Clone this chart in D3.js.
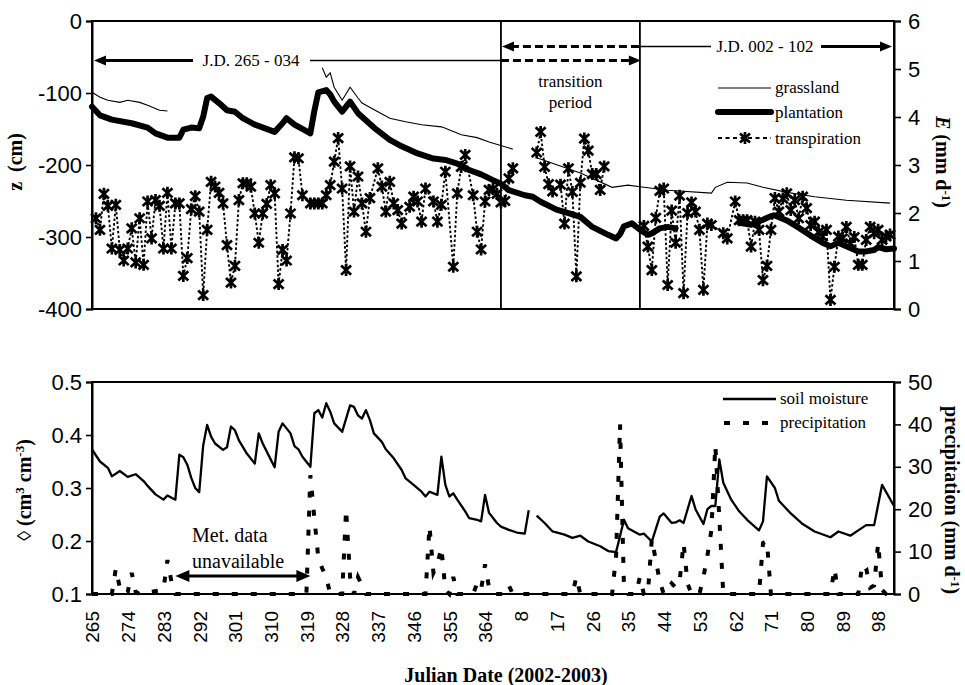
<!DOCTYPE html>
<html>
<head>
<meta charset="utf-8">
<title>Water table depth, evaporation and soil moisture, 2002-2003</title>
<script src="https://cdn.jsdelivr.net/npm/d3@7/dist/d3.min.js"></script>
<style>
  html, body { margin: 0; padding: 0; background: #fff; }
  svg { display: block; }
</style>
</head>
<body>
<svg id="chart" width="965" height="685"></svg>
<script>
// ---------------- data ----------------
// Julian days are counted continuously: 366 = J.D. 001 of 2003.
const xTickDays   = [265,274,283,292,301,310,319,328,337,346,355,364,373,382,391,400,409,418,427,436,445,454,463];
const xTickLabels = ["265","274","283","292","301","310","319","328","337","346","355","364","8","17","26","35","44","53","62","71","80","89","98"];
const zTicks      = [0,-100,-200,-300,-400];
const eTicks      = [0,1,2,3,4,5,6];
const thetaTicks  = [0.1,0.2,0.3,0.4,0.5];
const precipTicks = [0,10,20,30,40,50];

// water table depth under grassland (cm); null = no record
const grassDay = [265,267,269,272,274,277,279,282,284, 300,
                  323,324,325,326,328,330,332,333,337,340,344,348,353,354,358,362,365,371, 374,
                  377,388,396,400,404,410,421,422,425,430,434,440,447,455,466];
const grassZ   = [-99,-106,-110,-113,-110,-113,-117,-124,-125, null,
                  -65,-78,-72,-92,-110,-92,-107,-114,-126,-135,-140,-144,-147,-149,-158,-162,-168,-178, null,
                  -190,-211,-231,-228,-231,-235,-239,-231,-224,-225,-231,-238,-244,-249,-253];

// water table depth under the plantation (cm)
const plantDay = [265,267,270,275,279,281,284,287,288,290,292,293,294,295,297,299,301,303,306,311,313,314,316,319,320,
                  321,322,324,325,326,328,330,332,336,340,343,347,351,354,357,360,363,366,368,370,374,376,378,382,385,
                  388,391,395,397,398,399,401,403,405,406,408,410,412, 420,
                  428,431,434,436,437,440,443,446,449,451,453,455,458,460,462,463,465,467];
const plantZ   = [-119,-131,-137,-142,-148,-156,-162,-162,-151,-148,-149,-133,-107,-105,-114,-124,-126,-135,-144,-154,-142,-135,-144,-153,-156,
                  -125,-99,-96,-102,-112,-126,-112,-128,-148,-165,-174,-184,-191,-193,-198,-207,-213,-221,-226,-235,-242,-244,-251,-262,-267,
                  -272,-286,-297,-302,-296,-285,-281,-290,-297,-295,-288,-286,-288, null,
                  -280,-283,-276,-271,-270,-277,-287,-298,-308,-313,-308,-313,-320,-320,-318,-314,-317,-316];

// plantation transpiration (mm/d)
const transDay = [266,267,268,269,270,271,272,273,274,275,276,277,278,279,280,281,282,283,284,285,
                  286,287,288,289,290,291,292,293,294,295,296,297,298,299,300,301,302,303,304,305,
                  306,307,308,309,310,311,312,313,314,315,316,317,318,320,321,322,323,324,325,326,
                  327,328,329,330,331,332,333,334,335,337,338,339,340,341,342,343,345,346,347,348,
                  349,351,352,353,354,356,357,358,359,361,362,363,364,365,366,367,368,369,370,371,
                  374,
                  377,378,379,380,381,383,384,385,386,387,388,389,390,391,392,393,394,
                  399,
                  404,405,406,407,408,409,410,411,412,413,414,415,416,417,418,419,420,421,424,425,
                  427,428,429,430,431,432,433,434,435,436,437,438,439,440,441,442,443,444,445,446,
                  447,448,449,450,451,452,453,454,455,456,457,458,459,460,461,462,463,464,465,466];
const transE   = [1.89,1.65,2.40,2.15,1.26,2.17,1.23,1.01,1.26,1.68,0.97,1.89,0.92,2.24,1.47,2.27,2.15,1.26,2.42,1.26,
                  2.20,2.20,0.69,1.06,2.08,2.35,2.03,0.29,1.65,2.65,2.55,2.42,2.20,1.33,0.55,0.90,2.27,2.62,2.62,2.55,
                  1.99,1.38,1.99,2.19,2.58,2.41,0.52,1.23,1.01,1.99,3.16,3.14,2.37,2.20,2.20,2.20,2.20,2.37,2.58,3.07,
                  3.56,2.51,0.81,2.97,2.03,2.76,2.20,1.61,2.31,2.93,2.55,2.03,2.65,2.20,2.06,1.78,2.13,2.34,2.24,1.82,
                  2.51,2.24,1.82,2.17,2.86,0.88,2.41,2.96,3.21,2.37,1.61,1.24,2.24,2.48,2.50,2.40,2.22,2.25,2.72,2.93,
                  null,
                  3.26,3.69,2.96,2.60,2.45,2.59,1.78,2.93,2.44,0.68,2.63,3.55,3.30,2.81,2.81,2.48,2.97,
                  null,
                  1.73,1.30,0.81,1.90,2.46,2.51,0.50,2.05,1.38,2.36,0.33,2.00,2.22,2.03,1.65,0.40,1.78,1.75,1.58,1.47,
                  2.24,1.85,1.85,1.85,1.30,1.82,1.65,0.60,0.90,1.65,2.31,2.03,2.30,2.41,2.06,2.27,1.89,2.34,2.10,1.75,
                  1.82,1.60,1.51,1.65,0.19,0.88,1.51,1.47,1.71,1.37,1.50,0.92,0.92,1.44,1.71,1.58,1.65,1.44,1.51,1.55];

// volumetric soil moisture (cm3/cm3)
const soilDay   = [265,267,269,270,272,274,276,278,279,281,283,284,286,287,288,289,290,291,292,293,294,295,296,298,299,
                   300,301,302,304,306,307,308,310,311,312,313,315,316,317,318,320,321,322,323,324,325,326,328,330,331,
                   332,333,334,335,336,338,339,341,343,344,346,348,349,350,352,353,354,355,356,357,359,360,362,363,364,
                   365,367,368,370,372,374,375, 376,
                   377,379,381,384,386,388,390,393,395,397,399,400,403,404,406,408,409,411,412,413,414,416,417,419,420,
                   421,422,423,424,426,428,430,433,434,435,437,438,441,444,447,451,453,456,458,460,462,464,467];
const soilTheta = [.373,.350,.338,.322,.332,.321,.326,.313,.304,.288,.278,.286,.278,.363,.358,.344,.319,.300,.292,.380,.419,.397,.384,.372,.377,
                   .416,.409,.390,.365,.346,.403,.384,.354,.339,.406,.422,.403,.379,.373,.359,.340,.441,.447,.433,.460,.444,.422,.406,.456,.453,
                   .437,.431,.447,.428,.403,.387,.373,.356,.334,.318,.306,.293,.284,.293,.287,.359,.306,.284,.290,.278,.256,.243,.240,.237,.287,
                   .253,.234,.227,.221,.216,.214,.258, null,
                   .248,.234,.218,.212,.206,.210,.199,.190,.181,.179,.240,.224,.212,.214,.199,.246,.252,.234,.235,.239,.234,.285,.260,.232,.260,
                   .266,.266,.354,.310,.278,.256,.240,.220,.237,.322,.300,.276,.252,.232,.218,.207,.218,.210,.220,.230,.230,.306,.266];

// daily precipitation (mm/d)
const rainDay = [265,270,271,272,273,274,275,276,277,283,284,285,286,319,320,321,322,323,324,325,328,329,330,331,332,333,334,
                 349,350,351,352,353,354,355,356,357,361,362,363,364,365,366,369,370,371,386,387,388,396,397,398,399,400,
                 402,403,404,405,406,407,408,409,410,411,412,413,414,415,416,418,419,420,421,422,423,424,433,434,435,436,
                 451,452,453,458,459,460,461,462,463,464,465,467];
const rainMm  = [0,0,6,1.5,0,0.5,5,0.5,0,1,8,3,0,0,28,18,8.5,6,4,0,0,20,4,0,4,2,0,
                 0,16,5,7,11,1,0,4,0,0,2.5,1,7,1.5,0,0,2,0,0,4,0,0,9,40,1,0,
                 0,4,0,0,13,8,3,0,1,2.5,1.5,3,12,2.5,0,0,4,9,15,35,18,0,0,12,12.5,0,
                 0,6,0,0,7,6,1.5,2,12,1,0,0];

const periodBounds = [265, 368, 403, 467];   // J.D. 265-034 | transition | J.D. 002-102
const metGapDays   = [286, 320];             // met. station record missing

// ---------------- layout ----------------
const svg = d3.select("#chart");
const SANS  = '"Liberation Sans", Arial, Helvetica, sans-serif';
const SERIF = '"Liberation Serif", "Times New Roman", Times, serif';

const X0 = 92, X1 = 894;
const topY0 = 21,  topY1 = 309;
const botY0 = 382, botY1 = 594;

const x       = d3.scaleLinear().domain([265, 467]).range([X0, X1]);
const zScale  = d3.scaleLinear().domain([-400, 0]).range([topY1, topY0]);
const eScale  = d3.scaleLinear().domain([0, 6]).range([topY1, topY0]);
const thScale = d3.scaleLinear().domain([0.1, 0.5]).range([botY1, botY0]);
const pScale  = d3.scaleLinear().domain([0, 50]).range([botY1, botY0]);

function zip(days, vals) { return days.map((d, i) => ({ d, v: vals[i] })); }

function styleAxis(g, size) {
  g.select(".domain").attr("stroke", "#000").attr("stroke-width", 2);
  g.selectAll(".tick line").attr("stroke", "#000").attr("stroke-width", 1.6);
  g.selectAll(".tick text").attr("fill", "#000").style("font-family", SANS).style("font-size", size + "px");
}

// ---------------- upper panel: water table and transpiration ----------------
const upper = svg.append("g");

upper.append("g").attr("transform", `translate(${X0},0)`)
  .call(d3.axisLeft(zScale).tickValues(zTicks).tickSize(6).tickPadding(4).tickFormat(d => String(d)))
  .call(g => styleAxis(g, 22));
upper.append("g").attr("transform", `translate(${X1},0)`)
  .call(d3.axisRight(eScale).tickValues(eTicks).tickSize(7).tickPadding(7).tickFormat(d => String(d)))
  .call(g => styleAxis(g, 22));

upper.append("rect").attr("x", X0).attr("y", topY0).attr("width", X1 - X0).attr("height", topY1 - topY0)
  .attr("fill", "none").attr("stroke", "#000").attr("stroke-width", 2);

// period boundaries
upper.selectAll("line.bound").data(periodBounds.slice(1, 3)).join("line")
  .attr("class", "bound")
  .attr("x1", d => x(d)).attr("x2", d => x(d))
  .attr("y1", topY0).attr("y2", topY1)
  .attr("stroke", "#000").attr("stroke-width", 1.8);

const lineZ = d3.line().defined(p => p.v != null).x(p => x(p.d)).y(p => zScale(p.v));
const lineE = d3.line().defined(p => p.v != null).x(p => x(p.d)).y(p => eScale(p.v));

upper.append("path").datum(zip(grassDay, grassZ)).attr("d", lineZ)
  .attr("fill", "none").attr("stroke", "#000").attr("stroke-width", 1.1);

upper.append("path").datum(zip(plantDay, plantZ)).attr("d", lineZ)
  .attr("fill", "none").attr("stroke", "#000").attr("stroke-width", 6)
  .attr("stroke-linejoin", "round").attr("stroke-linecap", "round");

const transPts = zip(transDay, transE);
upper.append("path").datum(transPts).attr("d", lineE)
  .attr("fill", "none").attr("stroke", "#000").attr("stroke-width", 1.9)
  .attr("stroke-dasharray", "2.5,2.2");

const STAR = "M0,-6V6M-5,-4.6L5,4.6M-5,4.6L5,-4.6";
upper.selectAll("path.star").data(transPts.filter(p => p.v != null)).join("path")
  .attr("class", "star")
  .attr("transform", p => `translate(${x(p.d)},${eScale(p.v)})`)
  .attr("d", STAR).attr("fill", "none").attr("stroke", "#000").attr("stroke-width", 2.7);

// period arrows
function head(g, tipX, y, dir, len = 12, w = 5) {
  g.append("path")
    .attr("d", `M${tipX},${y}L${tipX - dir * len},${y - w}L${tipX - dir * len},${y + w}Z`)
    .attr("fill", "#000");
}
function seg(g, xa, xb, y, width, dash) {
  const l = g.append("line").attr("x1", xa).attr("x2", xb).attr("y1", y).attr("y2", y)
    .attr("stroke", "#000").attr("stroke-width", width);
  if (dash) l.attr("stroke-dasharray", dash);
}
const ann = svg.append("g");
const yA = 60.5, yB = 46.5;
const b0 = x(periodBounds[0]), b1 = x(periodBounds[1]), b2 = x(periodBounds[2]), b3 = x(periodBounds[3]);

head(ann, b0 + 2, yA, -1);
seg(ann, b0 + 10, 193, yA, 3);
ann.append("text").attr("x", 251).attr("y", 66).attr("text-anchor", "middle")
  .style("font-family", SERIF).style("font-size", "17px").text("J.D. 265 - 034");
seg(ann, 310, b1, yA, 1.5);
seg(ann, b1, b2 - 10, yA, 3, "8,4");
head(ann, b2 + 1, yA, 1);

head(ann, b1 + 1, yB, -1);
seg(ann, b1 + 10, b2, yB, 3, "8,4");
seg(ann, b2, 711, yB, 1.5);
ann.append("text").attr("x", 765).attr("y", 52).attr("text-anchor", "middle")
  .style("font-family", SERIF).style("font-size", "17px").text("J.D. 002 - 102");
seg(ann, 821, b3 - 10, yB, 3);
head(ann, b3 - 2, yB, 1);

const trans = ann.append("text").attr("text-anchor", "middle")
  .style("font-family", SERIF).style("font-size", "17px");
trans.append("tspan").attr("x", (b1 + b2) / 2).attr("y", 87).text("transition");
trans.append("tspan").attr("x", (b1 + b2) / 2).attr("y", 108).text("period");

// upper legend
const lg1 = svg.append("g").style("font-family", SERIF).style("font-size", "17px");
lg1.append("line").attr("x1", 718).attr("x2", 771).attr("y1", 88).attr("y2", 88).attr("stroke", "#000").attr("stroke-width", 1.1);
lg1.append("text").attr("x", 775).attr("y", 93).text("grassland");
lg1.append("line").attr("x1", 718).attr("x2", 771).attr("y1", 112).attr("y2", 112).attr("stroke", "#000").attr("stroke-width", 6).attr("stroke-linecap", "round");
lg1.append("text").attr("x", 775).attr("y", 118).text("plantation");
lg1.append("line").attr("x1", 718).attr("x2", 771).attr("y1", 138).attr("y2", 138).attr("stroke", "#000").attr("stroke-width", 1.8).attr("stroke-dasharray", "4,3.5");
lg1.append("path").attr("transform", "translate(745,138)").attr("d", STAR).attr("fill", "none").attr("stroke", "#000").attr("stroke-width", 2.7);
lg1.append("text").attr("x", 775).attr("y", 144).text("transpiration");

// upper axis titles
svg.append("text").attr("transform", "translate(22,162) rotate(-90)").attr("text-anchor", "middle")
  .style("font-family", SERIF).style("font-size", "20px").style("font-weight", "bold")
  .text("z\u00a0\u00a0(cm)");
const eT = svg.append("text").attr("transform", "translate(936,162) rotate(90)").attr("text-anchor", "middle")
  .style("font-family", SERIF).style("font-size", "20px").style("font-weight", "bold");
eT.append("tspan").style("font-style", "italic").text("E");
eT.append("tspan").text("\u00a0(mm d");
eT.append("tspan").attr("dy", -6).style("font-size", "13px").text("-1");
eT.append("tspan").attr("dy", 6).text(")");

// ---------------- lower panel: soil moisture and precipitation ----------------
const lower = svg.append("g");

lower.append("g").attr("transform", `translate(${X0},0)`)
  .call(d3.axisLeft(thScale).tickValues(thetaTicks).tickSize(6).tickPadding(4).tickFormat(d3.format(".1f")))
  .call(g => styleAxis(g, 22));
lower.append("g").attr("transform", `translate(${X1},0)`)
  .call(d3.axisRight(pScale).tickValues(precipTicks).tickSize(7).tickPadding(7).tickFormat(d => String(d)))
  .call(g => styleAxis(g, 22));
lower.append("g").attr("transform", `translate(0,${botY1})`)
  .call(d3.axisBottom(x).tickValues(xTickDays).tickSize(0).tickFormat((d, i) => xTickLabels[i]))
  .call(g => {
    g.select(".domain").remove();
    g.selectAll(".tick text")
      .attr("fill", "#000").style("font-family", SANS).style("font-size", "19px")
      .attr("transform", "rotate(-90)").attr("x", -17).attr("y", 0).attr("dy", "0.36em")
      .style("text-anchor", "end");
  });

lower.append("rect").attr("x", X0).attr("y", botY0).attr("width", X1 - X0).attr("height", botY1 - botY0)
  .attr("fill", "none").attr("stroke", "#000").attr("stroke-width", 2);

const lineTh = d3.line().defined(p => p.v != null).x(p => x(p.d)).y(p => thScale(p.v));
const lineP  = d3.line().x(p => x(p.d)).y(p => pScale(p.v));

lower.append("path").datum(zip(rainDay, rainMm)).attr("d", lineP)
  .attr("fill", "none").attr("stroke", "#000").attr("stroke-width", 4)
  .attr("stroke-dasharray", "6,13");

lower.append("path").datum(zip(soilDay, soilTheta)).attr("d", lineTh)
  .attr("fill", "none").attr("stroke", "#000").attr("stroke-width", 2.3)
  .attr("stroke-linejoin", "round");

// missing met. data note
const g0 = x(metGapDays[0]), g1 = x(metGapDays[1]);
seg(lower, g0 + 12, g1 - 12, 576, 3);
head(lower, g0, 576, -1, 14, 6);
head(lower, g1, 576, 1, 14, 6);
const met = lower.append("text").style("font-family", SERIF).style("font-size", "20px");
met.append("tspan").attr("x", 192).attr("y", 542).text("Met. data");
met.append("tspan").attr("x", 192).attr("y", 568).text("unavailable");

// lower legend
const lg2 = svg.append("g").style("font-family", SERIF).style("font-size", "17px");
lg2.append("line").attr("x1", 723).attr("x2", 776).attr("y1", 399).attr("y2", 399).attr("stroke", "#000").attr("stroke-width", 2.3);
lg2.append("text").attr("x", 780).attr("y", 404).text("soil moisture");
lg2.append("line").attr("x1", 724).attr("x2", 770).attr("y1", 423).attr("y2", 423).attr("stroke", "#000").attr("stroke-width", 4).attr("stroke-dasharray", "6,13");
lg2.append("text").attr("x", 780).attr("y", 428).text("precipitation");

// lower axis titles
const thT = svg.append("text").attr("transform", "translate(31,490) rotate(-90)").attr("text-anchor", "middle")
  .style("font-family", SERIF).style("font-size", "20px").style("font-weight", "bold");
thT.append("tspan").text("\u25CA (cm");
thT.append("tspan").attr("dy", -7).style("font-size", "13px").text("3");
thT.append("tspan").attr("dy", 7).text(" cm");
thT.append("tspan").attr("dy", -7).style("font-size", "13px").text("-3");
thT.append("tspan").attr("dy", 7).text(")");

const pT = svg.append("text").attr("transform", "translate(945,500) rotate(90)").attr("text-anchor", "middle")
  .style("font-family", SERIF).style("font-size", "20px").style("font-weight", "bold");
pT.append("tspan").text("precipitation (mm d");
pT.append("tspan").attr("dy", -6).style("font-size", "13px").text("-1");
pT.append("tspan").attr("dy", 6).text(")");

svg.append("text").attr("x", 506).attr("y", 682).attr("text-anchor", "middle")
  .style("font-family", SERIF).style("font-size", "20px").style("font-weight", "bold")
  .text("Julian Date (2002-2003)");
</script>
</body>
</html>
